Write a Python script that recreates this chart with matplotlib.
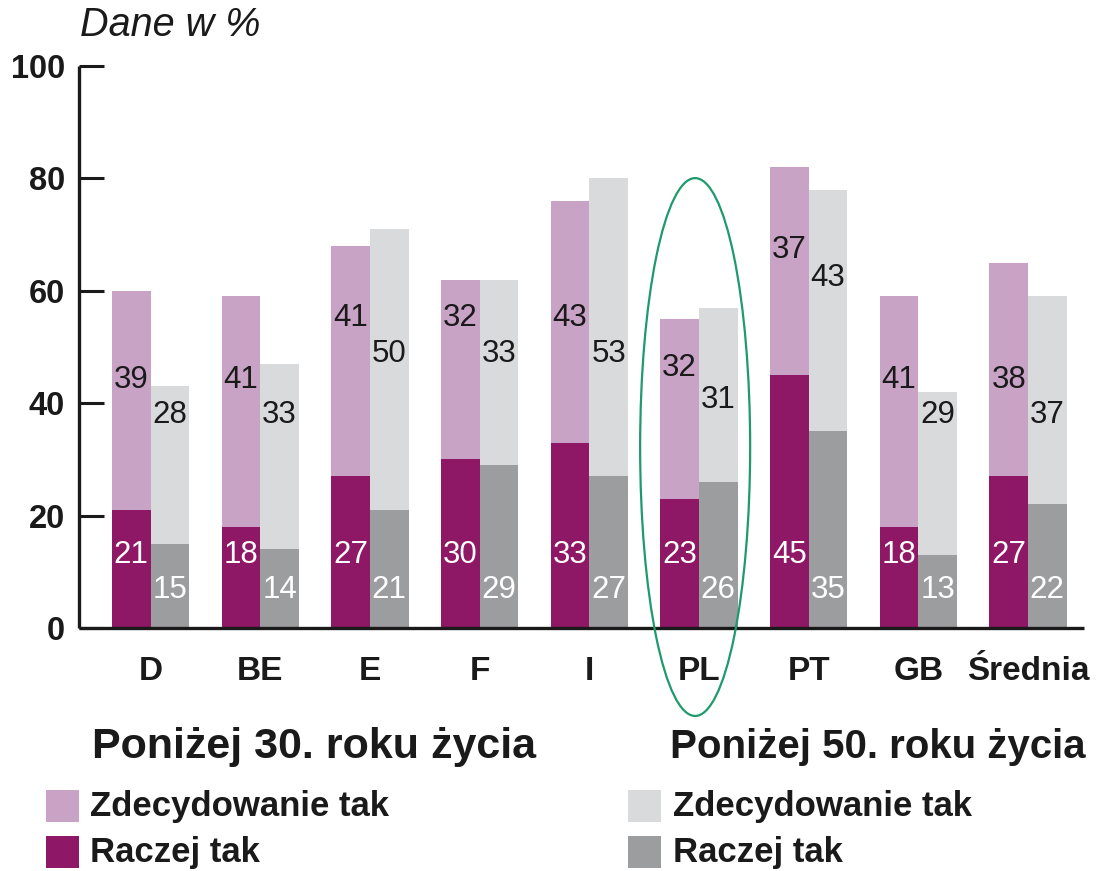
import matplotlib
matplotlib.use("Agg")
import matplotlib.pyplot as plt
from matplotlib.patches import Ellipse, Rectangle
import numpy as np

# ---- data ----
categories = ["D", "BE", "E", "F", "I", "PL", "PT", "GB", "Średnia"]
u30_raczej = [21, 18, 27, 30, 33, 23, 45, 18, 27]
u30_zdecyd = [39, 41, 41, 32, 43, 32, 37, 41, 38]
u50_raczej = [15, 14, 21, 29, 27, 26, 35, 13, 22]
u50_zdecyd = [28, 33, 50, 33, 53, 31, 43, 29, 37]
yticks = [0, 20, 40, 60, 80, 100]
group_titles = ["Poniżej 30. roku życia", "Poniżej 50. roku życia"]
legend_labels = ["Zdecydowanie tak", "Raczej tak"]
highlight = "PL"

# ---- style ----
C_DARK_PURPLE = "#8E1766"
C_LIGHT_PURPLE = "#C9A3C6"
C_LIGHT_GREY = "#D9DADC"
C_DARK_GREY = "#9C9D9F"
C_GREEN = "#1E9A6C"
FONT = "Liberation Sans"

# label placement (layout, data units)
u30_top_label_y = [44.1, 44.1, 55.2, 55.2, 55.2, 46.3, 67.3, 44.1, 44.1]
u50_top_label_y = [37.9, 37.9, 48.8, 48.8, 48.8, 40.6, 62.3, 37.9, 37.9]
bottom_label_y_u30 = 13.0
bottom_label_y_u50 = 6.8

W, H = 1105, 871
fig = plt.figure(figsize=(W / 100, H / 100), dpi=100)
plt.rcParams["font.family"] = [FONT, "DejaVu Sans"]

ax_left, ax_right, ax_bot, ax_top = 79, 1084, 628, 66
ax = fig.add_axes([ax_left / W, (H - ax_bot) / H, (ax_right - ax_left) / W, (ax_bot - ax_top) / H])

x = np.arange(len(categories))
bw = 0.352

ax.bar(x - bw / 2, u30_raczej, bw, color=C_DARK_PURPLE, linewidth=0)
ax.bar(x - bw / 2, u30_zdecyd, bw, bottom=u30_raczej, color=C_LIGHT_PURPLE, linewidth=0)
ax.bar(x + bw / 2, u50_raczej, bw, color=C_DARK_GREY, linewidth=0)
ax.bar(x + bw / 2, u50_zdecyd, bw, bottom=u50_raczej, color=C_LIGHT_GREY, linewidth=0)

fs_val = 22.5
for i in range(len(categories)):
    ax.text(x[i] - bw / 2, bottom_label_y_u30, str(u30_raczej[i]), ha="center", va="center",
            color="white", fontsize=fs_val)
    ax.text(x[i] + bw / 2, bottom_label_y_u50, str(u50_raczej[i]), ha="center", va="center",
            color="white", fontsize=fs_val)
    ax.text(x[i] - bw / 2, u30_top_label_y[i], str(u30_zdecyd[i]), ha="center", va="center",
            color="#1a1a1a", fontsize=fs_val)
    ax.text(x[i] + bw / 2, u50_top_label_y[i], str(u50_zdecyd[i]), ha="center", va="center",
            color="#1a1a1a", fontsize=fs_val)

ax.set_xlim(-0.652, 8.51)
ax.set_ylim(0, 100)
ax.set_yticks(yticks)
ax.set_yticklabels([str(t) for t in yticks], fontsize=23.5, fontweight="bold")
ax.tick_params(axis="y", direction="in", length=18, width=2.2, pad=10, color="#1a1a1a")
ax.set_xticks(x)
ax.set_xticklabels(categories, fontsize=24, fontweight="bold")
ax.tick_params(axis="x", length=0, pad=20)
for s in ["top", "right"]:
    ax.spines[s].set_visible(False)
for s in ["left", "bottom"]:
    ax.spines[s].set_linewidth(2.4)
    ax.spines[s].set_color("#1a1a1a")
    ax.spines[s].set_capstyle("butt")
for lab in ax.get_xticklabels() + ax.get_yticklabels():
    lab.set_color("#1a1a1a")

# highlight ellipse around PL
hi = categories.index(highlight)
ell = Ellipse((x[hi] - 0.035, 32.2), width=1.003, height=95.7, fill=False,
              edgecolor=C_GREEN, linewidth=1.6, clip_on=False, zorder=5)
ax.add_patch(ell)

# "Dane w %"
fig.text(80 / W, 1 - 25 / H, "Dane w %", fontsize=28.5, style="italic", color="#1a1a1a",
         ha="left", va="center")

# legend
def fy(py):
    return 1 - py / H

fig.text(92 / W, fy(747), group_titles[0], fontsize=31, fontweight="bold", color="#1a1a1a",
         ha="left", va="center")
fig.text(1086 / W, fy(747), group_titles[1], fontsize=29, fontweight="bold", color="#1a1a1a",
         ha="right", va="center")

legend_cols = [
    (46, 90, [C_LIGHT_PURPLE, C_DARK_PURPLE]),
    (628, 673, [C_LIGHT_GREY, C_DARK_GREY]),
]
rows_y = [806, 852]
for px0, tx, cols in legend_cols:
    for ry, col, lab in zip(rows_y, cols, legend_labels):
        fig.patches.append(Rectangle((px0 / W, fy(ry + 16)), 33 / W, 32 / H,
                                     transform=fig.transFigure, color=col, linewidth=0))
        fig.text(tx / W, fy(ry), lab, fontsize=25, fontweight="bold", color="#1a1a1a",
                 ha="left", va="center")

fig.savefig("out.png", dpi=100, facecolor="white")
